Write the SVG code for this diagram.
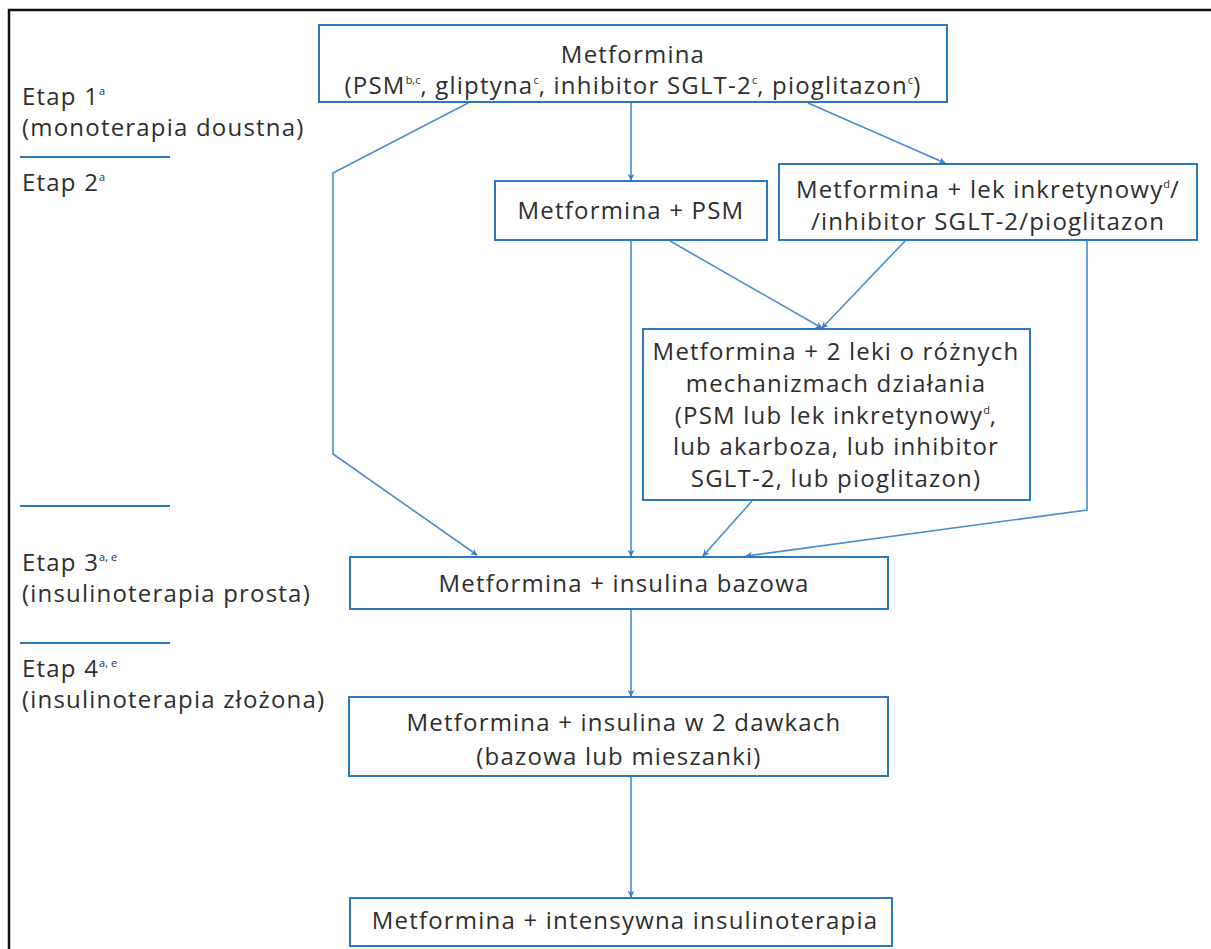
<svg xmlns="http://www.w3.org/2000/svg" width="1211" height="949" viewBox="0 0 1211 949">
<style>
.bg{fill:#ffffff}
.frame{fill:none;stroke:#111;stroke-width:2.5}
.box{fill:#ffffff;stroke:#2a78bf;stroke-width:2}
.sep{stroke:#2a78bf;stroke-width:2}
.t{font-family:"Open Sans","Noto Sans",sans-serif;font-size:24px;letter-spacing:1.2px;fill:#2e2e2e}
.c{text-anchor:middle}
.s{font-size:11px;letter-spacing:0}
.conn{fill:none;stroke:#4a8ccf;stroke-width:1.6}
</style>
<defs>
<marker id="ah" viewBox="0 0 10 10" refX="9" refY="5" markerWidth="7" markerHeight="7" orient="auto" markerUnits="userSpaceOnUse">
<path d="M0,0 L10,5 L0,10 L3,5 Z" fill="#3a80c6"/>
</marker>
</defs>
<rect class="bg" x="0" y="0" width="1211" height="949"/>
<path class="frame" d="M9,949 V10 H1211"/>

<g id="stages">
<text class="t" x="22" y="105">Etap 1<tspan class="s" dy="-10">a</tspan></text>
<text class="t" x="22" y="136">(monoterapia doustna)</text>
<line class="sep" x1="20" y1="157" x2="170" y2="157"/>
<text class="t" x="22" y="191">Etap 2<tspan class="s" dy="-10">a</tspan></text>
<line class="sep" x1="20" y1="506" x2="170" y2="506"/>
<text class="t" x="22" y="571">Etap 3<tspan class="s" dy="-10">a, e</tspan></text>
<text class="t" x="22" y="602">(insulinoterapia prosta)</text>
<line class="sep" x1="20" y1="643" x2="170" y2="643"/>
<text class="t" x="22" y="677">Etap 4<tspan class="s" dy="-10">a, e</tspan></text>
<text class="t" x="22" y="708">(insulinoterapia złożona)</text>
</g>

<g id="connectors">
<polyline class="conn" points="468,103 333,173 333,454 477,555" marker-end="url(#ah)"/>
<line class="conn" x1="631" y1="103" x2="631" y2="180" marker-end="url(#ah)"/>
<line class="conn" x1="808" y1="103" x2="945" y2="163" marker-end="url(#ah)"/>
<line class="conn" x1="631" y1="241" x2="631" y2="556" marker-end="url(#ah)"/>
<line class="conn" x1="670" y1="241" x2="822" y2="328" marker-end="url(#ah)"/>
<line class="conn" x1="905" y1="241" x2="822" y2="328" marker-end="url(#ah)"/>
<line class="conn" x1="752" y1="501" x2="703" y2="556" marker-end="url(#ah)"/>
<polyline class="conn" points="1087,241 1087,510 746,556" marker-end="url(#ah)"/>
<line class="conn" x1="631" y1="610" x2="631" y2="696" marker-end="url(#ah)"/>
<line class="conn" x1="631" y1="777" x2="631" y2="897" marker-end="url(#ah)"/>
</g>

<g id="n1">
<rect class="box" x="319" y="25" width="628" height="77"/>
<text class="t c" x="633" y="63">Metformina</text>
<text class="t c" x="633" y="94">(PSM<tspan class="s" dy="-10">b,c</tspan><tspan dy="10">, gliptyna</tspan><tspan class="s" dy="-10">c</tspan><tspan dy="10">, inhibitor SGLT-2</tspan><tspan class="s" dy="-10">c</tspan><tspan dy="10">, pioglitazon</tspan><tspan class="s" dy="-10">c</tspan><tspan dy="10">)</tspan></text>
</g>

<g id="n2">
<rect class="box" x="495" y="181" width="272" height="59"/>
<text class="t c" x="631" y="219">Metformina + PSM</text>
</g>

<g id="n3">
<rect class="box" x="779" y="164" width="418" height="76"/>
<text class="t c" x="988" y="198">Metformina + lek inkretynowy<tspan class="s" dy="-10">d</tspan><tspan dy="10">/</tspan></text>
<text class="t c" x="988" y="230">/inhibitor SGLT-2/pioglitazon</text>
</g>

<g id="n4">
<rect class="box" x="643" y="329" width="387" height="171"/>
<text class="t c" x="836" y="360">Metformina + 2 leki o różnych</text>
<text class="t c" x="836" y="392">mechanizmach działania</text>
<text class="t c" x="836" y="424">(PSM lub lek inkretynowy<tspan class="s" dy="-10">d</tspan><tspan dy="10">,</tspan></text>
<text class="t c" x="836" y="455">lub akarboza, lub inhibitor</text>
<text class="t c" x="836" y="487">SGLT-2, lub pioglitazon)</text>
</g>

<g id="n5">
<rect class="box" x="350" y="557" width="538" height="52"/>
<text class="t c" x="624" y="592">Metformina + insulina bazowa</text>
</g>

<g id="n6">
<rect class="box" x="349" y="697" width="539" height="79"/>
<text class="t c" x="624" y="731">Metformina + insulina w 2 dawkach</text>
<text class="t c" x="619" y="765">(bazowa lub mieszanki)</text>
</g>

<g id="n7">
<rect class="box" x="350" y="898" width="542" height="48"/>
<text class="t c" x="625" y="929">Metformina + intensywna insulinoterapia</text>
</g>
</svg>
